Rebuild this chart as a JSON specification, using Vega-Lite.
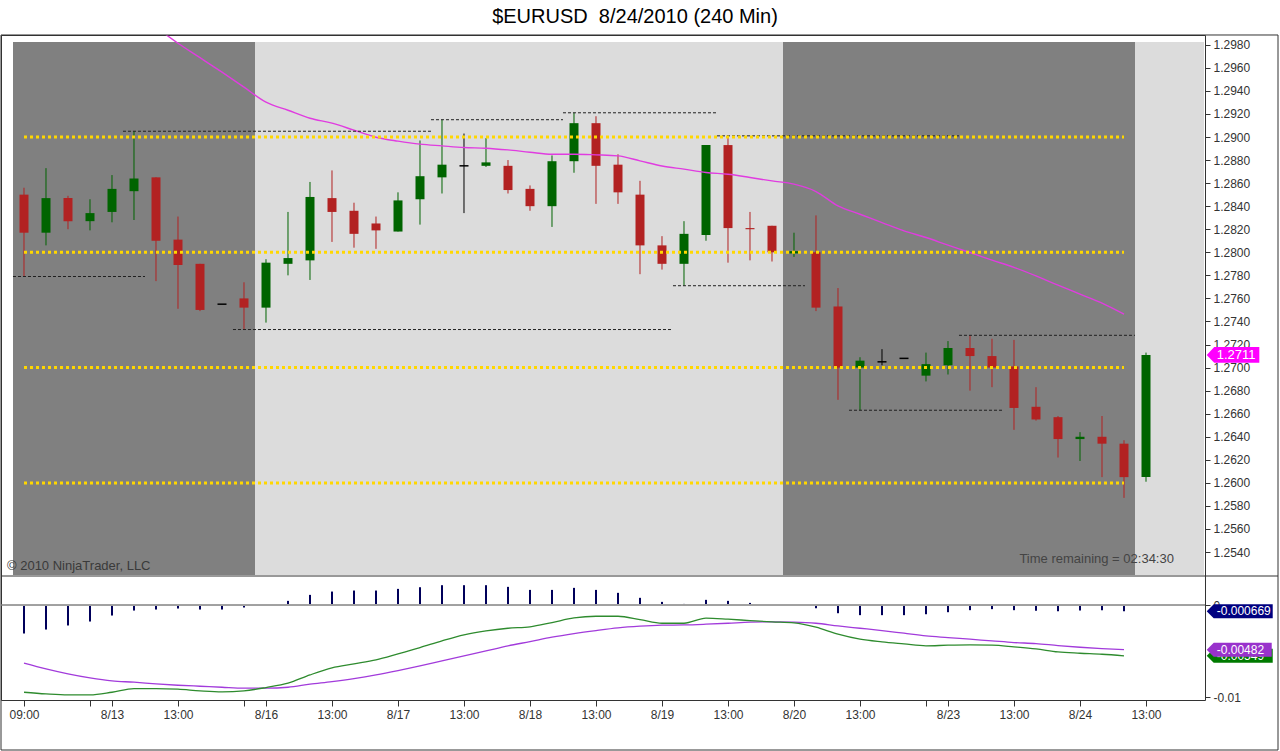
{
  "$schema": "https://vega.github.io/schema/vega-lite/v6.json",
  "description": "EURUSD 240 minute candles with moving average and MACD panel",
  "width": 1204,
  "height": 665,
  "autosize": {"type": "none"},
  "padding": {"left": 1, "top": 35, "right": 75, "bottom": 51},
  "background": "white",
  "title": {
    "text": "$EURUSD\u00a0 8/24/2010 (240 Min)",
    "font": "Liberation Sans",
    "fontSize": 20,
    "fontWeight": "normal",
    "color": "#000000",
    "anchor": "middle",
    "frame": "group",
    "dx": 32,
    "offset": 7
  },
  "datasets": {
    "bars": [
      {"i": 0, "open": 1.2850, "high": 1.2856, "low": 1.2779, "close": 1.2817, "ma": null, "hist": -0.00307, "macd": -0.00944, "signal": -0.00629},
      {"i": 1, "open": 1.2817, "high": 1.2873, "low": 1.2806, "close": 1.2847, "ma": null, "hist": -0.00264, "macd": -0.00962, "signal": -0.00691},
      {"i": 2, "open": 1.2847, "high": 1.2849, "low": 1.2820, "close": 1.2827, "ma": null, "hist": -0.00220, "macd": -0.00973, "signal": -0.00745},
      {"i": 3, "open": 1.2827, "high": 1.2846, "low": 1.2819, "close": 1.2834, "ma": null, "hist": -0.00177, "macd": -0.00973, "signal": -0.00789},
      {"i": 4, "open": 1.2835, "high": 1.2867, "low": 1.2826, "close": 1.2855, "ma": null, "hist": -0.00112, "macd": -0.00944, "signal": -0.00821},
      {"i": 5, "open": 1.2853, "high": 1.2905, "low": 1.2828, "close": 1.2864, "ma": null, "hist": -0.00058, "macd": -0.00904, "signal": -0.00835},
      {"i": 6, "open": 1.2865, "high": 1.2865, "low": 1.2775, "close": 1.2810, "ma": 1.29952, "hist": -0.00047, "macd": -0.00904, "signal": -0.00853},
      {"i": 7, "open": 1.2811, "high": 1.2831, "low": 1.2751, "close": 1.2789, "ma": 1.29813, "hist": -0.00036, "macd": -0.00911, "signal": -0.00868},
      {"i": 8, "open": 1.2790, "high": 1.2790, "low": 1.2749, "close": 1.2750, "ma": 1.29688, "hist": -0.00047, "macd": -0.00929, "signal": -0.00879},
      {"i": 9, "open": 1.2755, "high": 1.2755, "low": 1.2755, "close": 1.2755, "ma": 1.29562, "hist": -0.00047, "macd": -0.00940, "signal": -0.00890},
      {"i": 10, "open": 1.2760, "high": 1.2774, "low": 1.2733, "close": 1.2752, "ma": 1.29432, "hist": -0.00025, "macd": -0.00929, "signal": -0.00900},
      {"i": 11, "open": 1.2752, "high": 1.2794, "low": 1.2739, "close": 1.2791, "ma": 1.29302, "hist": 0.00002, "macd": -0.00893, "signal": -0.00900},
      {"i": 12, "open": 1.2790, "high": 1.2835, "low": 1.2780, "close": 1.2795, "ma": 1.29232, "hist": 0.00047, "macd": -0.00846, "signal": -0.00890},
      {"i": 13, "open": 1.2793, "high": 1.2861, "low": 1.2776, "close": 1.2848, "ma": 1.29163, "hist": 0.00112, "macd": -0.00756, "signal": -0.00857},
      {"i": 14, "open": 1.2847, "high": 1.2871, "low": 1.2809, "close": 1.2835, "ma": 1.29120, "hist": 0.00148, "macd": -0.00680, "signal": -0.00829},
      {"i": 15, "open": 1.2836, "high": 1.2843, "low": 1.2804, "close": 1.2816, "ma": 1.29059, "hist": 0.00159, "macd": -0.00637, "signal": -0.00796},
      {"i": 16, "open": 1.2825, "high": 1.2831, "low": 1.2803, "close": 1.2819, "ma": 1.28998, "hist": 0.00159, "macd": -0.00593, "signal": -0.00756},
      {"i": 17, "open": 1.2818, "high": 1.2852, "low": 1.2818, "close": 1.2845, "ma": 1.28964, "hist": 0.00177, "macd": -0.00528, "signal": -0.00709},
      {"i": 18, "open": 1.2846, "high": 1.2897, "low": 1.2824, "close": 1.2866, "ma": 1.28938, "hist": 0.00195, "macd": -0.00460, "signal": -0.00658},
      {"i": 19, "open": 1.2865, "high": 1.2915, "low": 1.2851, "close": 1.2876, "ma": 1.28923, "hist": 0.00217, "macd": -0.00387, "signal": -0.00604},
      {"i": 20, "open": 1.2875, "high": 1.2903, "low": 1.2834, "close": 1.2875, "ma": 1.28909, "hist": 0.00217, "macd": -0.00322, "signal": -0.00550},
      {"i": 21, "open": 1.2875, "high": 1.2899, "low": 1.2874, "close": 1.2878, "ma": 1.28903, "hist": 0.00217, "macd": -0.00279, "signal": -0.00496},
      {"i": 22, "open": 1.2875, "high": 1.2880, "low": 1.2851, "close": 1.2854, "ma": 1.28888, "hist": 0.00199, "macd": -0.00250, "signal": -0.00441},
      {"i": 23, "open": 1.2855, "high": 1.2858, "low": 1.2836, "close": 1.2840, "ma": 1.28868, "hist": 0.00166, "macd": -0.00235, "signal": -0.00395},
      {"i": 24, "open": 1.2840, "high": 1.2884, "low": 1.2822, "close": 1.2879, "ma": 1.28851, "hist": 0.00166, "macd": -0.00188, "signal": -0.00347},
      {"i": 25, "open": 1.2879, "high": 1.2921, "low": 1.2869, "close": 1.2912, "ma": 1.28851, "hist": 0.00188, "macd": -0.00138, "signal": -0.00308},
      {"i": 26, "open": 1.2912, "high": 1.2918, "low": 1.2842, "close": 1.2875, "ma": 1.28845, "hist": 0.00166, "macd": -0.00120, "signal": -0.00275},
      {"i": 27, "open": 1.2876, "high": 1.2885, "low": 1.2842, "close": 1.2852, "ma": 1.28836, "hist": 0.00134, "macd": -0.00120, "signal": -0.00246},
      {"i": 28, "open": 1.2850, "high": 1.2862, "low": 1.2781, "close": 1.2806, "ma": 1.28793, "hist": 0.00080, "macd": -0.00156, "signal": -0.00228},
      {"i": 29, "open": 1.2806, "high": 1.2814, "low": 1.2785, "close": 1.2790, "ma": 1.28749, "hist": 0.00036, "macd": -0.00196, "signal": -0.00217},
      {"i": 30, "open": 1.2790, "high": 1.2827, "low": 1.2771, "close": 1.2816, "ma": 1.28721, "hist": 0.00014, "macd": -0.00196, "signal": -0.00214},
      {"i": 31, "open": 1.2815, "high": 1.2893, "low": 1.2810, "close": 1.2893, "ma": 1.28692, "hist": 0.00058, "macd": -0.00141, "signal": -0.00206},
      {"i": 32, "open": 1.2893, "high": 1.2901, "low": 1.2791, "close": 1.2821, "ma": 1.28677, "hist": 0.00047, "macd": -0.00152, "signal": -0.00196},
      {"i": 33, "open": 1.2821, "high": 1.2835, "low": 1.2793, "close": 1.2820, "ma": 1.28649, "hist": 0.00025, "macd": -0.00167, "signal": -0.00184},
      {"i": 34, "open": 1.2823, "high": 1.2823, "low": 1.2792, "close": 1.2800, "ma": 1.28619, "hist": 0.00002, "macd": -0.00181, "signal": -0.00181},
      {"i": 35, "open": 1.2799, "high": 1.2817, "low": 1.2796, "close": 1.2801, "ma": 1.28591, "hist": 0.00005, "macd": -0.00192, "signal": -0.00184},
      {"i": 36, "open": 1.2800, "high": 1.2832, "low": 1.2749, "close": 1.2752, "ma": 1.28527, "hist": -0.00033, "macd": -0.00239, "signal": -0.00196},
      {"i": 37, "open": 1.2753, "high": 1.2769, "low": 1.2672, "close": 1.2700, "ma": 1.28402, "hist": -0.00087, "macd": -0.00315, "signal": -0.00225},
      {"i": 38, "open": 1.2700, "high": 1.2709, "low": 1.2663, "close": 1.2706, "ma": 1.28330, "hist": -0.00108, "macd": -0.00369, "signal": -0.00250},
      {"i": 39, "open": 1.2705, "high": 1.2716, "low": 1.2702, "close": 1.2705, "ma": 1.28258, "hist": -0.00108, "macd": -0.00398, "signal": -0.00275},
      {"i": 40, "open": 1.2708, "high": 1.2708, "low": 1.2708, "close": 1.2708, "ma": 1.28186, "hist": -0.00108, "macd": -0.00420, "signal": -0.00304},
      {"i": 41, "open": 1.2693, "high": 1.2713, "low": 1.2688, "close": 1.2703, "ma": 1.28128, "hist": -0.00098, "macd": -0.00441, "signal": -0.00333},
      {"i": 42, "open": 1.2702, "high": 1.2723, "low": 1.2694, "close": 1.2717, "ma": 1.28062, "hist": -0.00076, "macd": -0.00434, "signal": -0.00351},
      {"i": 43, "open": 1.2717, "high": 1.2728, "low": 1.2680, "close": 1.2710, "ma": 1.27998, "hist": -0.00054, "macd": -0.00431, "signal": -0.00369},
      {"i": 44, "open": 1.2710, "high": 1.2725, "low": 1.2683, "close": 1.2700, "ma": 1.27932, "hist": -0.00043, "macd": -0.00434, "signal": -0.00387},
      {"i": 45, "open": 1.2701, "high": 1.2724, "low": 1.2646, "close": 1.2665, "ma": 1.27869, "hist": -0.00054, "macd": -0.00452, "signal": -0.00405},
      {"i": 46, "open": 1.2666, "high": 1.2683, "low": 1.2654, "close": 1.2655, "ma": 1.27795, "hist": -0.00061, "macd": -0.00474, "signal": -0.00416},
      {"i": 47, "open": 1.2657, "high": 1.2658, "low": 1.2622, "close": 1.2638, "ma": 1.27715, "hist": -0.00065, "macd": -0.00507, "signal": -0.00438},
      {"i": 48, "open": 1.2638, "high": 1.2644, "low": 1.2619, "close": 1.2640, "ma": 1.27637, "hist": -0.00058, "macd": -0.00521, "signal": -0.00456},
      {"i": 49, "open": 1.2640, "high": 1.2658, "low": 1.2605, "close": 1.2634, "ma": 1.27559, "hist": -0.00054, "macd": -0.00532, "signal": -0.00470},
      {"i": 50, "open": 1.2634, "high": 1.2637, "low": 1.2587, "close": 1.2605, "ma": 1.27463, "hist": -0.000669, "macd": -0.00549, "signal": -0.00482},
      {"i": 51, "open": 1.2605, "high": 1.2713, "low": 1.2601, "close": 1.2711, "ma": null, "hist": null, "macd": null, "signal": null}
    ],
    "sessions": [
      {"x1": -0.5, "x2": 10.5, "session": "closed"},
      {"x1": 10.5, "x2": 34.5, "session": "open"},
      {"x1": 34.5, "x2": 50.5, "session": "closed"},
      {"x1": 50.5, "x2": 53.636, "session": "open"}
    ],
    "levels": [
      {"level": 1.26, "from": 0, "to": 50},
      {"level": 1.27, "from": 0, "to": 50},
      {"level": 1.28, "from": 0, "to": 50},
      {"level": 1.29, "from": 0, "to": 50}
    ],
    "pivots": [
      {"x1": -0.5, "x2": 5.5, "price": 1.2779},
      {"x1": 4.5, "x2": 18.5, "price": 1.2905},
      {"x1": 9.5, "x2": 29.5, "price": 1.2733},
      {"x1": 18.5, "x2": 24.5, "price": 1.2915},
      {"x1": 24.5, "x2": 31.5, "price": 1.2921},
      {"x1": 29.5, "x2": 35.5, "price": 1.2771},
      {"x1": 31.5, "x2": 42.5, "price": 1.2901},
      {"x1": 37.5, "x2": 44.5, "price": 1.2663},
      {"x1": 42.5, "x2": 50.5, "price": 1.2728}
    ],
    "lastValues": [
      {"kind": "close", "v": 1.2711, "txt": "1.2711"},
      {"kind": "macd", "v": -0.00549, "txt": "-0.00549"},
      {"kind": "hist", "v": -0.000669, "txt": "-0.000669"},
      {"kind": "signal", "v": -0.00482, "txt": "-0.00482"}
    ]
  },
  "data": {"name": "bars"},
  "resolve": {"scale": {"y": "independent"}, "axis": {"y": "independent"}},
  "layer": [
    {
      "layer": [
        {
          "mark": {"type": "rule", "strokeWidth": 1, "opacity": 0},
          "encoding": {
            "x": {
              "field": "i",
              "type": "quantitative",
              "title": null,
              "scale": {"domain": [-1.04545, 53.68182], "nice": false, "zero": false, "padding": 0},
              "axis": {
                "title": null,
                "orient": "bottom",
                "values": [0, 3, 4, 7, 10, 11, 14, 17, 20, 23, 26, 29, 32, 35, 38, 41, 42, 45, 48, 51],
                "tickCount": 60,
                "labelExpr": "datum.value == 0 ? '09:00' : (datum.value == 3 || datum.value == 10 || datum.value == 41) ? '' : datum.value == 4 ? '8/13' : datum.value == 11 ? '8/16' : datum.value == 17 ? '8/17' : datum.value == 23 ? '8/18' : datum.value == 29 ? '8/19' : datum.value == 35 ? '8/20' : datum.value == 42 ? '8/23' : datum.value == 48 ? '8/24' : '13:00'",
                "labelOverlap": false,
                "labelFlush": false,
                "tickSize": 6,
                "labelPadding": 3
              }
            },
            "y": {
              "field": "low",
              "type": "quantitative",
              "title": null,
              "scale": {"domain": [1.25201, 1.29824], "range": [540, 7], "nice": false, "zero": false, "padding": 0},
              "axis": {
                "title": null,
                "orient": "right",
                "values": [1.254, 1.256, 1.258, 1.26, 1.262, 1.264, 1.266, 1.268, 1.27, 1.272, 1.274, 1.276, 1.278, 1.28, 1.282, 1.284, 1.286, 1.288, 1.29, 1.292, 1.294, 1.296, 1.298],
                "tickCount": 30,
                "format": ".4f",
                "labelOverlap": false,
                "tickSize": 5,
                "labelPadding": 3
              }
            },
            "y2": {"field": "high"}
          }
        },
        {
          "data": {"name": "sessions"},
          "mark": {"type": "rect"},
          "encoding": {
            "x": {"field": "x1", "type": "quantitative", "title": null},
            "x2": {"field": "x2"},
            "y": {"datum": 1.29824, "type": "quantitative", "title": null},
            "y2": {"datum": 1.25201},
            "color": {
              "field": "session",
              "type": "nominal",
              "scale": {"domain": ["closed", "open"], "range": ["#808080", "#DCDCDC"]},
              "legend": null
            }
          }
        },
        {
          "mark": {"type": "rule", "strokeWidth": 1},
          "encoding": {
            "x": {"field": "i", "type": "quantitative", "title": null},
            "y": {"field": "low", "type": "quantitative", "title": null},
            "y2": {"field": "high"},
            "color": {
              "condition": [
                {"test": "datum.close > datum.open", "value": "#006400"},
                {"test": "datum.close < datum.open", "value": "#B22222"}
              ],
              "value": "#000000"
            }
          }
        },
        {
          "mark": {"type": "bar", "width": 9},
          "encoding": {
            "x": {"field": "i", "type": "quantitative", "title": null},
            "y": {"field": "open", "type": "quantitative", "title": null},
            "y2": {"field": "close"},
            "color": {
              "condition": [
                {"test": "datum.close > datum.open", "value": "#006400"},
                {"test": "datum.close < datum.open", "value": "#B22222"}
              ],
              "value": "#000000"
            }
          }
        },
        {
          "transform": [{"filter": "datum.open == datum.close"}],
          "mark": {"type": "tick", "orient": "horizontal", "size": 9, "thickness": 1.5, "color": "#000000", "opacity": 1},
          "encoding": {
            "x": {"field": "i", "type": "quantitative", "title": null},
            "y": {"field": "close", "type": "quantitative", "title": null}
          }
        },
        {
          "mark": {"type": "line", "color": "#E03CE0", "strokeWidth": 1.4, "clip": true, "interpolate": "monotone"},
          "encoding": {
            "x": {"field": "i", "type": "quantitative", "title": null},
            "y": {"field": "ma", "type": "quantitative", "title": null}
          }
        },
        {
          "data": {"name": "pivots"},
          "mark": {"type": "rule", "color": "#202020", "strokeWidth": 1, "strokeDash": [3, 2]},
          "encoding": {
            "x": {"field": "x1", "type": "quantitative", "title": null},
            "x2": {"field": "x2"},
            "y": {"field": "price", "type": "quantitative", "title": null}
          }
        },
        {
          "data": {"name": "levels"},
          "mark": {"type": "rule", "color": "#FFD700", "strokeWidth": 3, "strokeDash": [3, 3]},
          "encoding": {
            "x": {"field": "from", "type": "quantitative", "title": null},
            "x2": {"field": "to"},
            "y": {"field": "level", "type": "quantitative", "title": null}
          }
        },
        {
          "data": {"values": [{"txt": "\u00a9 2010 NinjaTrader, LLC"}]},
          "mark": {"type": "text", "align": "left", "baseline": "alphabetic", "fontSize": 13, "color": "#3A3A3A"},
          "encoding": {
            "x": {"datum": -0.773, "type": "quantitative", "title": null},
            "y": {"datum": 1.25245, "type": "quantitative", "title": null},
            "text": {"field": "txt"}
          }
        },
        {
          "data": {"values": [{"txt": "Time remaining = 02:34:30"}]},
          "mark": {"type": "text", "align": "right", "baseline": "alphabetic", "fontSize": 13, "color": "#444444"},
          "encoding": {
            "x": {"datum": 52.27, "type": "quantitative", "title": null},
            "y": {"datum": 1.25303, "type": "quantitative", "title": null},
            "text": {"field": "txt"}
          }
        },
        {
          "data": {"name": "lastValues"},
          "transform": [{"filter": "datum.kind == 'close'"}],
          "mark": {
            "type": "point",
            "shape": "M 0 0 L 0.75 -0.78 L 5.26 -0.78 L 5.26 0.78 L 0.75 0.78 Z",
            "size": 400,
            "filled": true,
            "opacity": 1,
            "color": "#FF00FF"
          },
          "encoding": {
            "x": {"datum": 53.76, "type": "quantitative", "title": null},
            "y": {"field": "v", "type": "quantitative", "title": null}
          }
        },
        {
          "data": {"name": "lastValues"},
          "transform": [{"filter": "datum.kind == 'close'"}],
          "mark": {"type": "text", "align": "left", "baseline": "middle", "dx": 10, "fontSize": 13, "color": "#FFFFFF"},
          "encoding": {
            "x": {"datum": 53.76, "type": "quantitative", "title": null},
            "y": {"field": "v", "type": "quantitative", "title": null},
            "text": {"field": "txt"}
          }
        }
      ]
    },
    {
      "layer": [
        {
          "mark": {"type": "rule", "color": "#00005A", "strokeWidth": 2},
          "encoding": {
            "x": {"field": "i", "type": "quantitative", "title": null},
            "y": {
              "field": "hist",
              "type": "quantitative",
              "title": null,
              "scale": {"domain": [-0.010282, 0.003167], "range": [665, 541], "nice": false, "zero": false, "padding": 0},
              "axis": {
                "title": null,
                "orient": "right",
                "values": [0, -0.01],
                "labelExpr": "datum.value == 0 ? '0' : '-0.01'",
                "labelOverlap": false,
                "tickSize": 5,
                "labelPadding": 3
              }
            },
            "y2": {"datum": 0}
          }
        },
        {
          "mark": {"type": "rule", "color": "#A0A0A0", "strokeWidth": 1},
          "encoding": {
            "y": {"datum": 0, "type": "quantitative", "title": null}
          }
        },
        {
          "mark": {"type": "line", "color": "#A23BDB", "strokeWidth": 1.3, "interpolate": "monotone"},
          "encoding": {
            "x": {"field": "i", "type": "quantitative", "title": null},
            "y": {"field": "signal", "type": "quantitative", "title": null}
          }
        },
        {
          "mark": {"type": "line", "color": "#2E8B2E", "strokeWidth": 1.3, "interpolate": "monotone"},
          "encoding": {
            "x": {"field": "i", "type": "quantitative", "title": null},
            "y": {"field": "macd", "type": "quantitative", "title": null}
          }
        },
        {
          "data": {"name": "lastValues"},
          "transform": [{"filter": "datum.kind == 'macd' || datum.kind == 'hist'"}],
          "mark": {
            "type": "point",
            "shape": "M 0 0 L 0.7 -0.7 L 6.6 -0.7 L 6.6 0.7 L 0.7 0.7 Z",
            "size": 400,
            "filled": true,
            "opacity": 1
          },
          "encoding": {
            "x": {"datum": 53.76, "type": "quantitative", "title": null},
            "y": {"field": "v", "type": "quantitative", "title": null},
            "color": {
              "condition": {"test": "datum.kind == 'hist'", "value": "#000080"},
              "value": "#007A00"
            }
          }
        },
        {
          "data": {"name": "lastValues"},
          "transform": [{"filter": "datum.kind == 'macd' || datum.kind == 'hist'"}],
          "mark": {"type": "text", "align": "left", "baseline": "middle", "dx": 10, "fontSize": 12, "color": "#FFFFFF"},
          "encoding": {
            "x": {"datum": 53.76, "type": "quantitative", "title": null},
            "y": {"field": "v", "type": "quantitative", "title": null},
            "text": {"field": "txt"}
          }
        },
        {
          "data": {"name": "lastValues"},
          "transform": [{"filter": "datum.kind == 'signal'"}],
          "mark": {
            "type": "point",
            "shape": "M 0 0 L 0.7 -0.7 L 6.5 -0.7 L 6.5 0.7 L 0.7 0.7 Z",
            "size": 400,
            "filled": true,
            "opacity": 1,
            "color": "#9932CC"
          },
          "encoding": {
            "x": {"datum": 53.76, "type": "quantitative", "title": null},
            "y": {"field": "v", "type": "quantitative", "title": null}
          }
        },
        {
          "data": {"name": "lastValues"},
          "transform": [{"filter": "datum.kind == 'signal'"}],
          "mark": {"type": "text", "align": "left", "baseline": "middle", "dx": 10, "fontSize": 12, "color": "#FFFFFF"},
          "encoding": {
            "x": {"datum": 53.76, "type": "quantitative", "title": null},
            "y": {"field": "v", "type": "quantitative", "title": null},
            "text": {"field": "txt"}
          }
        },
        {
          "data": {"values": [{"frame": "separator"}]},
          "mark": {"type": "rule", "color": "#333333", "strokeWidth": 1},
          "encoding": {
            "x": {"datum": -1.04545, "type": "quantitative", "title": null},
            "x2": {"datum": 57.0},
            "y": {"datum": 0.003167, "type": "quantitative", "title": null}
          }
        },
        {
          "data": {"values": [{"frame": "outer"}]},
          "mark": {"type": "rect", "fill": null, "filled": false, "stroke": "#333333", "strokeWidth": 1},
          "encoding": {
            "x": {"datum": -1.04545, "type": "quantitative", "title": null},
            "x2": {"datum": 57.0},
            "y": {"datum": 0.061844, "type": "quantitative", "title": null},
            "y2": {"datum": -0.015705}
          }
        }
      ]
    }
  ],
  "config": {
    "font": "Liberation Sans",
    "view": {"stroke": "#333333", "strokeWidth": 1},
    "axis": {
      "grid": false,
      "domain": false,
      "labelOverlap": false,
      "labelFont": "Liberation Sans",
      "labelFontSize": 12,
      "labelColor": "#333333",
      "tickColor": "#333333"
    }
  }
}
